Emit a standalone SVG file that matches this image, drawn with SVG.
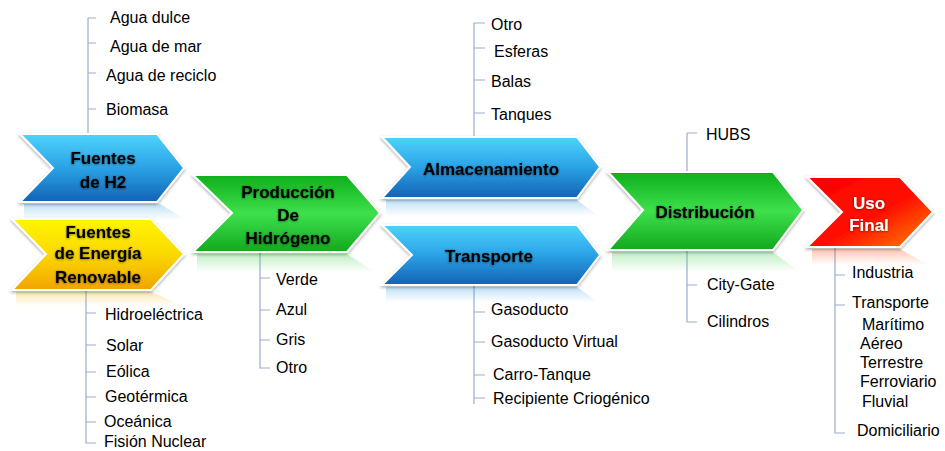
<svg xmlns="http://www.w3.org/2000/svg" width="945" height="451" viewBox="0 0 945 451">
<defs>
<linearGradient id="gBlue" x1="0" y1="0" x2="0" y2="1"><stop offset="0" stop-color="#4fd3fc"/><stop offset="0.5" stop-color="#2aa2e6"/><stop offset="1" stop-color="#1462b4"/></linearGradient>
<linearGradient id="gGreen" x1="0" y1="0" x2="0" y2="1"><stop offset="0" stop-color="#0fae1c"/><stop offset="0.5" stop-color="#3ee04c"/><stop offset="1" stop-color="#12a81e"/></linearGradient>
<linearGradient id="gYellow" x1="0" y1="0" x2="0" y2="1"><stop offset="0" stop-color="#fff600"/><stop offset="0.5" stop-color="#fbd800"/><stop offset="1" stop-color="#f0a400"/></linearGradient>
<linearGradient id="gRed" x1="0" y1="0" x2="1" y2="1"><stop offset="0" stop-color="#ff0000"/><stop offset="0.55" stop-color="#ff1000"/><stop offset="1" stop-color="#ff8a00"/></linearGradient>
<linearGradient id="rBlue" x1="0" y1="0" x2="0" y2="1"><stop offset="0" stop-color="#2a9be0" stop-opacity="0.3"/><stop offset="1" stop-color="#2a9be0" stop-opacity="0"/></linearGradient>
<linearGradient id="rGreen" x1="0" y1="0" x2="0" y2="1"><stop offset="0" stop-color="#2cc83a" stop-opacity="0.3"/><stop offset="1" stop-color="#2cc83a" stop-opacity="0"/></linearGradient>
<linearGradient id="rYellow" x1="0" y1="0" x2="0" y2="1"><stop offset="0" stop-color="#f0b000" stop-opacity="0.3"/><stop offset="1" stop-color="#f0b000" stop-opacity="0"/></linearGradient>
<linearGradient id="rRed" x1="0" y1="0" x2="0" y2="1"><stop offset="0" stop-color="#ff4000" stop-opacity="0.3"/><stop offset="1" stop-color="#ff4000" stop-opacity="0"/></linearGradient>
<filter id="shadow" x="-10%" y="-15%" width="120%" height="135%"><feDropShadow dx="0" dy="1.5" stdDeviation="1.5" flood-color="#000" flood-opacity="0.35"/></filter>
<filter id="tglow" x="-10%" y="-30%" width="120%" height="160%"><feDropShadow dx="0" dy="0.5" stdDeviation="1.2" flood-color="#000" flood-opacity="0.55"/></filter>
</defs>
<style>
.chev{stroke:#ffffff;stroke-width:2;stroke-linejoin:miter;filter:url(#shadow)}
.ct{font-family:"Liberation Sans",Arial,sans-serif;font-weight:bold;font-size:17px;fill:#000;text-anchor:middle;filter:url(#tglow)}
.ctw{fill:#fff}
.lb{font-family:"Liberation Sans",Arial,sans-serif;font-size:16px;fill:#000}
.ln{stroke:#9aadcc;stroke-width:1.2;fill:none}
</style>
<rect width="945" height="451" fill="#fff"/>

<g id="connectors">
<path class="ln" d="M88 18V134 M88 18H96 M88 43H96 M88 73H96 M88 109H96"/>
<path class="ln" d="M86 290V443H96 M86 313H96 M86 345H96 M86 372H96 M86 397H96 M86 422H96"/>
<path class="ln" d="M260 252V368H270 M260 278H270 M260 310H270 M260 340H270"/>
<path class="ln" d="M474 23V137 M474 23H485 M474 48H485 M474 80H485 M474 113H485"/>
<path class="ln" d="M474 285V404 M474 312H485 M474 342H485 M474 375H485 M474 398H485"/>
<path class="ln" d="M687 133V172 M687 133H697"/>
<path class="ln" d="M687 250V322H697 M687 285H697"/>
<path class="ln" d="M835 248V433H845 M835 275H845 M835 305H845"/>
</g>

<g id="node-fuentes-h2">
<polygon points="24,204 160,204 186,220 24,220" fill="url(#rBlue)"/>
<polygon class="chev" points="20,134 157,134 184,168 157,202 20,202 53,168" fill="url(#gBlue)"/>
<text class="ct" x="103" y="164">Fuentes</text>
<text class="ct" x="103" y="188">de H2</text>
<g class="lb">
<text x="110" y="23">Agua dulce</text>
<text x="110" y="52">Agua de mar</text>
<text x="106" y="81">Agua de reciclo</text>
<text x="106" y="115">Biomasa</text>
</g>
</g>

<g id="node-fuentes-renovable">
<polygon points="16,292 152,292 182,306 16,306" fill="url(#rYellow)"/>
<polygon class="chev" points="12,219 151,219 184,254 151,290 12,290 46,254" fill="url(#gYellow)"/>
<text class="ct" x="98" y="238">Fuentes</text>
<text class="ct" x="98" y="259">de Energía</text>
<text class="ct" x="98" y="283">Renovable</text>
<g class="lb">
<text x="105" y="320">Hidroeléctrica</text>
<text x="106" y="351">Solar</text>
<text x="106" y="377">Eólica</text>
<text x="105" y="402">Geotérmica</text>
<text x="104" y="427">Oceánica</text>
<text x="104" y="447">Fisión Nuclear</text>
</g>
</g>

<g id="node-produccion">
<polygon points="197,254 347,254 375,272 197,272" fill="url(#rGreen)"/>
<polygon class="chev" points="193,175 347,175 380,213 347,252 193,252 232,213" fill="url(#gGreen)"/>
<text class="ct" x="288" y="198">Producción</text>
<text class="ct" x="288" y="221">De</text>
<text class="ct" x="288" y="244">Hidrógeno</text>
<g class="lb">
<text x="276" y="285">Verde</text>
<text x="276" y="315">Azul</text>
<text x="276" y="345">Gris</text>
<text x="276" y="373">Otro</text>
</g>
</g>

<g id="node-almacenamiento">
<polygon points="386,200 577,200 598,216 386,216" fill="url(#rBlue)"/>
<polygon class="chev" points="382,137 577,137 600,167 577,198 382,198 410,167" fill="url(#gBlue)"/>
<text class="ct" x="491" y="175">Almacenamiento</text>
<g class="lb">
<text x="491" y="30">Otro</text>
<text x="494" y="57">Esferas</text>
<text x="491" y="87">Balas</text>
<text x="491" y="120">Tanques</text>
</g>
</g>

<g id="node-transporte">
<polygon points="386,287 577,287 598,302 386,302" fill="url(#rBlue)"/>
<polygon class="chev" points="382,225 577,225 600,255 577,285 382,285 412,255" fill="url(#gBlue)"/>
<text class="ct" x="489" y="262">Transporte</text>
<g class="lb">
<text x="491" y="315">Gasoducto</text>
<text x="491" y="347">Gasoducto Virtual</text>
<text x="493" y="380">Carro-Tanque</text>
<text x="493" y="404">Recipiente Criogénico</text>
</g>
</g>

<g id="node-distribucion">
<polygon points="612,252 773,252 800,272 612,272" fill="url(#rGreen)"/>
<polygon class="chev" points="608,172 773,172 803,210 773,250 608,250 643,210" fill="url(#gGreen)"/>
<text class="ct" x="705" y="218">Distribución</text>
<g class="lb">
<text x="706" y="140">HUBS</text>
<text x="707" y="290">City-Gate</text>
<text x="707" y="327">Cilindros</text>
</g>
</g>

<g id="node-uso-final">
<polygon points="812,249 900,249 928,265 812,265" fill="url(#rRed)"/>
<polygon class="chev" points="807,177 900,177 933,212 900,247 807,247 842,212" fill="url(#gRed)"/>
<text class="ct ctw" x="869" y="209">Uso</text>
<text class="ct ctw" x="869" y="231">Final</text>
<g class="lb">
<text x="852" y="278">Industria</text>
<text x="852" y="308">Transporte</text>
<text x="862" y="330">Marítimo</text>
<text x="860" y="349">Aéreo</text>
<text x="860" y="368">Terrestre</text>
<text x="860" y="387">Ferroviario</text>
<text x="862" y="407">Fluvial</text>
<text x="857" y="436">Domiciliario</text>
</g>
</g>
</svg>
